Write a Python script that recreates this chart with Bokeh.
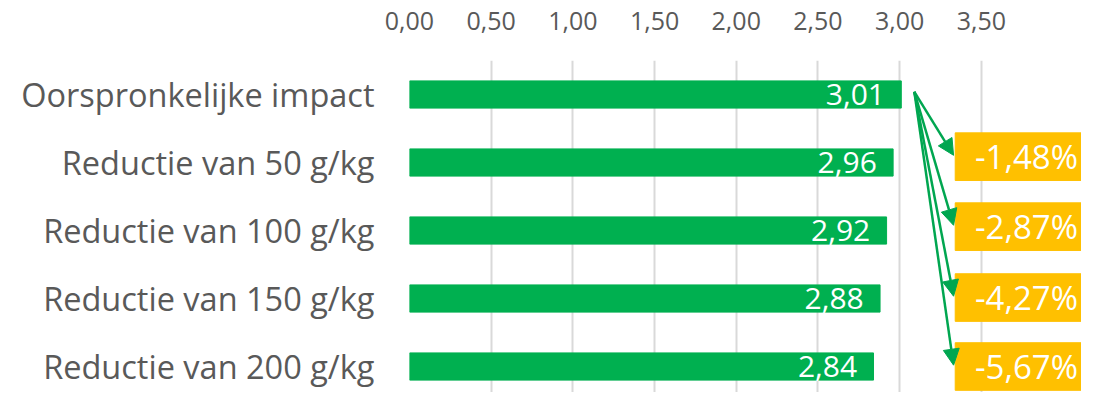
from bokeh.plotting import figure
from bokeh.models import Range1d, FixedTicker, Arrow, NormalHead, CustomJSTickFormatter
from bokeh.core.properties import value
from bokeh.embed import file_html
from bokeh.resources import INLINE

categories = ["Oorspronkelijke impact", "Reductie van 50 g/kg", "Reductie van 100 g/kg",
              "Reductie van 150 g/kg", "Reductie van 200 g/kg"]
values = [3.01, 2.96, 2.92, 2.88, 2.84]
pct_changes = [-1.48, -2.87, -4.27, -5.67]
x_ticks = [0.0, 0.5, 1.0, 1.5, 2.0, 2.5, 3.0, 3.5]

GREEN = "#00B050"
ARROW = "#00A650"
ORANGE = "#FFC000"
GREY = "#595959"
FONT = value("Open Sans")

ys = list(range(len(categories)))
value_labels = [f"{v:.2f}".replace(".", ",") for v in values]
pct_labels = [f"{c:.2f}%".replace(".", ",") for c in pct_changes]

p = figure(width=1081, height=392,
           x_range=Range1d(0, 4.113), y_range=Range1d(4.382, -0.5),
           x_axis_location="above", output_backend="svg", toolbar_location=None,
           min_border_left=409, min_border_top=60, min_border_right=0, min_border_bottom=0)
p.outline_line_color = None
p.background_fill_color = "white"
p.border_fill_color = "white"

# x axis (top)
xa = p.xaxis[0]
xa.ticker = FixedTicker(ticks=x_ticks)
xa.formatter = CustomJSTickFormatter(code="return tick.toFixed(2).replace('.', ',');")
xa.axis_line_color = None
xa.major_tick_line_color = None
xa.minor_tick_line_color = None
xa.major_label_standoff = 25
xa.major_label_text_font = "Open Sans"
xa.major_label_text_font_size = "25px"
xa.major_label_text_color = GREY

# y axis (categories)
ya = p.yaxis[0]
ya.ticker = FixedTicker(ticks=ys)
ya.formatter = CustomJSTickFormatter(args=dict(labels=categories),
                                     code="return labels[Math.round(tick)];")
ya.axis_line_color = None
ya.major_tick_line_color = None
ya.minor_tick_line_color = None
ya.major_label_standoff = 29
ya.major_label_text_font = "Open Sans"
ya.major_label_text_font_size = "32.5px"
ya.major_label_text_color = GREY

p.ygrid.grid_line_color = None
p.xgrid.ticker = FixedTicker(ticks=x_ticks)
p.xgrid.grid_line_color = "#D9D9D9"
p.xgrid.grid_line_width = 2

p.hbar(y=ys, left=0, right=values, height=0.4, color=GREEN)
p.text(x=[v - 0.1 for v in values], y=ys, text=value_labels, text_align="right",
       text_baseline="middle", text_color="white", text_font=FONT, text_font_size="30px")

box_y = [0.914, 1.943, 2.986, 4.0]
p.quad(left=3.34, right=4.21, top=[b - 0.35 for b in box_y], bottom=[b + 0.35 for b in box_y],
       color=ORANGE)
p.text(x=[3.776] * len(pct_labels), y=box_y, text=pct_labels, text_align="center",
       text_baseline="middle", text_color="white", text_font=FONT, text_font_size="33px")

for b in box_y:
    p.add_layout(Arrow(end=NormalHead(size=16, fill_color=ARROW, line_color=ARROW, line_width=1),
                       x_start=3.09, y_start=-0.04, x_end=3.33, y_end=b - 0.02,
                       line_color=ARROW, line_width=2.5))

open("out.html", "w").write(file_html(p, INLINE))
